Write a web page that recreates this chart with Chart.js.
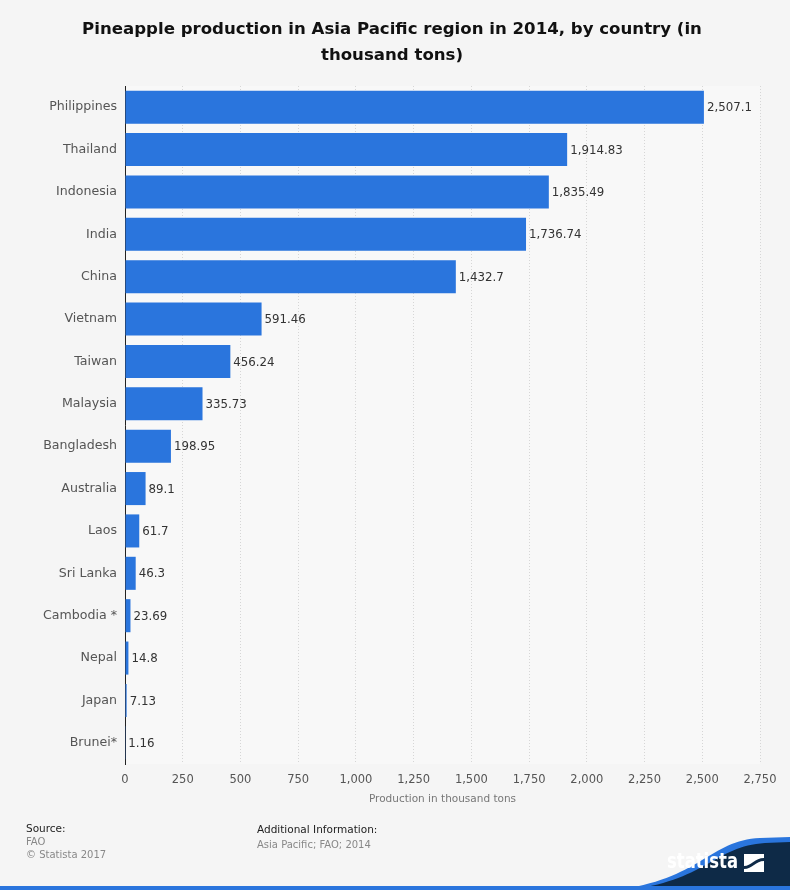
<!DOCTYPE html>
<html>
<head>
<meta charset="utf-8">
<script src="https://cdn.jsdelivr.net/npm/chart.js@4"></script>
<style>
  html, body { margin: 0; padding: 0; background: #f5f5f5; }
  #wrap { width: 790px; height: 890px; }
</style>
</head>
<body>
<div id="wrap"><canvas id="chart" width="790" height="890"></canvas></div>
<script>
// data
const countries = ["Philippines", "Thailand", "Indonesia", "India", "China", "Vietnam", "Taiwan", "Malaysia",
  "Bangladesh", "Australia", "Laos", "Sri Lanka", "Cambodia *", "Nepal", "Japan", "Brunei*"];
const production = [2507.1, 1914.83, 1835.49, 1736.74, 1432.7, 591.46, 456.24, 335.73,
  198.95, 89.1, 61.7, 46.3, 23.69, 14.8, 7.13, 1.16];
const xTicks = [0, 250, 500, 750, 1000, 1250, 1500, 1750, 2000, 2250, 2500, 2750];
const titleLines = ["Pineapple production in Asia Pacific region in 2014, by country (in", "thousand tons)"];

const fmt = (v) => v.toLocaleString("en-US", { maximumFractionDigits: 2 });
const FONT = "'DejaVu Sans', sans-serif";

// plot background + value labels
const valueLabels = {
  id: "valueLabels",
  beforeDraw(chart) {
    const { ctx, chartArea: a } = chart;
    ctx.save();
    ctx.fillStyle = "#f8f8f8";
    ctx.fillRect(a.left, a.top, a.right - a.left, a.bottom - a.top);
    ctx.restore();
  },
  afterDatasetsDraw(chart) {
    const { ctx } = chart;
    const meta = chart.getDatasetMeta(0);
    ctx.save();
    ctx.font = "11.8px " + FONT;
    ctx.fillStyle = "#333";
    ctx.textBaseline = "middle";
    meta.data.forEach((bar, i) => {
      ctx.fillText(fmt(production[i]), bar.x + 3, bar.y + 1);
    });
    ctx.restore();
  }
};

// title, footer: source, additional info, logo
const footer = {
  id: "footer",
  afterDraw(chart) {
    const { ctx } = chart;
    ctx.save();
    ctx.textBaseline = "middle";
    ctx.textAlign = "center";
    ctx.fillStyle = "#111";
    ctx.font = "bold 16.6px " + FONT;
    titleLines.forEach((t, i) => ctx.fillText(t, 392, 30 + i * 26));

    ctx.textAlign = "left";
    ctx.font = "10.5px " + FONT;
    ctx.fillStyle = "#222";
    ctx.fillText("Source:", 26, 829);
    ctx.fillText("Additional Information:", 257, 830);
    ctx.fillStyle = "#888";
    ctx.font = "10px " + FONT;
    ctx.fillText("FAO", 26, 842);
    ctx.fillText("© Statista 2017", 26, 855);
    ctx.fillText("Asia Pacific; FAO; 2014", 257, 845);

    // logo band
    ctx.beginPath();
    ctx.moveTo(615, 890);
    ctx.bezierCurveTo(700, 880, 710, 840, 760, 838);
    ctx.lineTo(790, 837);
    ctx.lineTo(790, 890);
    ctx.closePath();
    ctx.fillStyle = "#2a75dd";
    ctx.fill();
    ctx.beginPath();
    ctx.moveTo(625, 890);
    ctx.bezierCurveTo(705, 882, 715, 846, 765, 843);
    ctx.lineTo(790, 842);
    ctx.lineTo(790, 890);
    ctx.closePath();
    ctx.fillStyle = "#0e2a47";
    ctx.fill();
    ctx.fillStyle = "#2a75dd";
    ctx.fillRect(0, 886, 790, 4);

    ctx.fillStyle = "#fff";
    ctx.font = "bold 21px 'DejaVu Sans Condensed', " + FONT;
    const w = ctx.measureText("statista").width;
    ctx.save();
    ctx.translate(667, 863);
    ctx.scale(71 / w, 1);
    ctx.fillText("statista", 0, 0);
    ctx.restore();
    // logo mark
    ctx.fillRect(744, 854, 20, 18);
    ctx.fillStyle = "#0e2a47";
    ctx.beginPath();
    ctx.moveTo(744, 866);
    ctx.bezierCurveTo(751, 866, 755, 858, 764, 858);
    ctx.lineTo(764, 861);
    ctx.bezierCurveTo(756, 861, 752, 869, 744, 869);
    ctx.closePath();
    ctx.fill();
    ctx.restore();
  }
};

new Chart(document.getElementById("chart"), {
  type: "bar",
  data: {
    labels: countries,
    datasets: [{
      data: production,
      backgroundColor: "#2a75dd",
      barPercentage: 0.78,
      categoryPercentage: 1
    }]
  },
  options: {
    indexAxis: "y",
    responsive: false,
    animation: false,
    layout: { padding: { left: 0, right: 30, top: 86, bottom: 84 } },
    plugins: {
      legend: { display: false },
      tooltip: { enabled: false },
      title: { display: false }
    },
    scales: {
      x: {
        min: 0,
        max: 2750,
        afterBuildTicks(scale) { scale.ticks = xTicks.map((v) => ({ value: v })); },
        afterFit(scale) { scale.height = 42; },
        ticks: {
          color: "#555",
          font: { family: FONT, size: 11.5 },
          padding: 9,
          maxRotation: 0,
          callback: (v) => fmt(v)
        },
        grid: { color: "#d6d6d6", drawTicks: false },
        border: { display: false, dash: [1, 2] },
        title: {
          display: true,
          text: "Production in thousand tons",
          color: "#777",
          font: { family: FONT, size: 10.5 },
          padding: { top: 4, bottom: 0 }
        }
      },
      y: {
        afterFit(scale) { scale.width = 125; },
        ticks: {
          color: "#555",
          font: { family: FONT, size: 12.6 },
          padding: 8
        },
        grid: { display: false, drawTicks: false },
        border: { display: true, color: "#222", width: 1 }
      }
    }
  },
  plugins: [valueLabels, footer]
});
</script>
</body>
</html>
